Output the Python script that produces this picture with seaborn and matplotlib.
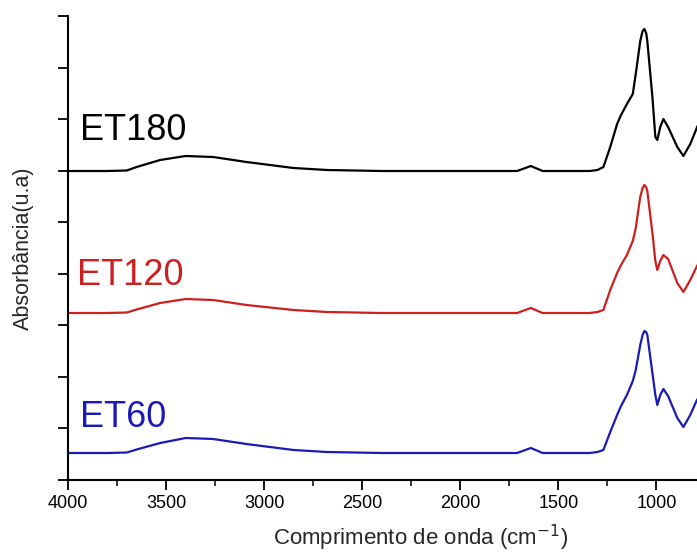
import numpy as np
import pandas as pd
import seaborn as sns
import matplotlib.pyplot as plt


wavenumber = [4000, 3800, 3700, 3650, 3530, 3400, 3260, 3090, 2850, 2680,
              2400, 2000, 1800, 1710, 1640, 1580, 1450, 1340, 1300, 1270,
              1235, 1200, 1180, 1150, 1120, 1105, 1082, 1070, 1061, 1052, 1046,
              1020, 1005, 995, 980, 964, 940, 893, 862, 827, 800, 790]

# absorbance (arbitrary units, no offset)
et180 = [0, 0, 0.005, 0.04, 0.11, 0.15, 0.14, 0.09, 0.03, 0.01,
         0, 0, 0, 0, 0.05, 0, 0, 0, 0.01, 0.04,
         0.24, 0.47, 0.56, 0.67, 0.77, 0.97, 1.30, 1.40, 1.42, 1.38, 1.30,
         0.74, 0.34, 0.31, 0.44, 0.52, 0.44, 0.24, 0.15, 0.27, 0.40, 0.45]

et120 = [0, 0, 0.005, 0.035, 0.10, 0.14, 0.13, 0.08, 0.03, 0.01,
         0, 0, 0, 0, 0.05, 0, 0, 0, 0.01, 0.03,
         0.23, 0.40, 0.48, 0.58, 0.72, 0.85, 1.16, 1.25, 1.28, 1.26, 1.22,
         0.80, 0.52, 0.43, 0.52, 0.58, 0.54, 0.30, 0.21, 0.33, 0.44, 0.48]

et60 = [0, 0, 0.005, 0.035, 0.10, 0.15, 0.14, 0.09, 0.03, 0.01,
        0, 0, 0, 0, 0.05, 0, 0, 0, 0.01, 0.03,
        0.21, 0.38, 0.47, 0.58, 0.72, 0.83, 1.08, 1.18, 1.22, 1.21, 1.18,
        0.80, 0.58, 0.48, 0.58, 0.64, 0.57, 0.35, 0.26, 0.38, 0.50, 0.54]

samples = ["ET180", "ET120", "ET60"]
offsets = {"ET180": 3.09, "ET120": 1.67, "ET60": 0.27}
colors = {"ET180": "#000000", "ET120": "#cc1f1f", "ET60": "#1a1ab4"}
label_pos = {"ET180": (3940, 3.40), "ET120": (3955, 1.95), "ET60": (3940, 0.53)}


def build_frame():
  frames = []
  for name, vals in zip(samples, [et180, et120, et60]):
    df = pd.DataFrame({"w": wavenumber, "a": vals})
    df["y"] = df["a"] + offsets[name]
    df["amostra"] = name
    frames.append(df)
  return pd.concat(frames, ignore_index=True)


def main():
  sns.set_style("ticks")
  plt.rcParams["font.family"] = ["Liberation Sans", "DejaVu Sans"]

  fig = plt.figure(figsize=(6.97, 5.54), dpi=100)
  # axes runs past the right edge (original figure was cropped at ~790 cm-1)
  ax = fig.add_axes([68 / 697, 74 / 554, 706 / 697, 464 / 554])

  data = build_frame()
  sns.lineplot(data=data, x="w", y="y", hue="amostra", units="amostra",
               estimator=None, sort=False, palette=colors, linewidth=1.6,
               legend=False, ax=ax)

  for name in samples:
    x, y = label_pos[name]
    ax.text(x, y, name, color=colors[name], fontsize=26, ha="left", va="baseline")

  ax.set_xlim(4000, 400)
  ax.set_ylim(0, 4.64)
  ax.set_xticks(range(4000, 999, -500))
  ax.set_xticks(range(3750, 699, -500), minor=True)
  ax.set_yticks(np.linspace(0, 4.64, 10))
  ax.set_yticklabels([])
  ax.tick_params(axis="both", which="major", direction="out", length=7, width=1.3,
                 labelsize=13, colors="black")
  ax.tick_params(axis="x", which="minor", direction="out", length=4, width=1.3)

  sns.despine(ax=ax, top=True, right=True)
  for s in ["left", "bottom"]:
    ax.spines[s].set_linewidth(1.5)
    ax.spines[s].set_color("black")

  ax.set_xlabel("Comprimento de onda (cm$^{-1}$)", fontsize=16, labelpad=8)
  ax.set_ylabel("Absorbância(u.a)", fontsize=15.5, labelpad=14)

  fig.savefig("out.png", dpi=100)


if __name__ == "__main__":
  main()
